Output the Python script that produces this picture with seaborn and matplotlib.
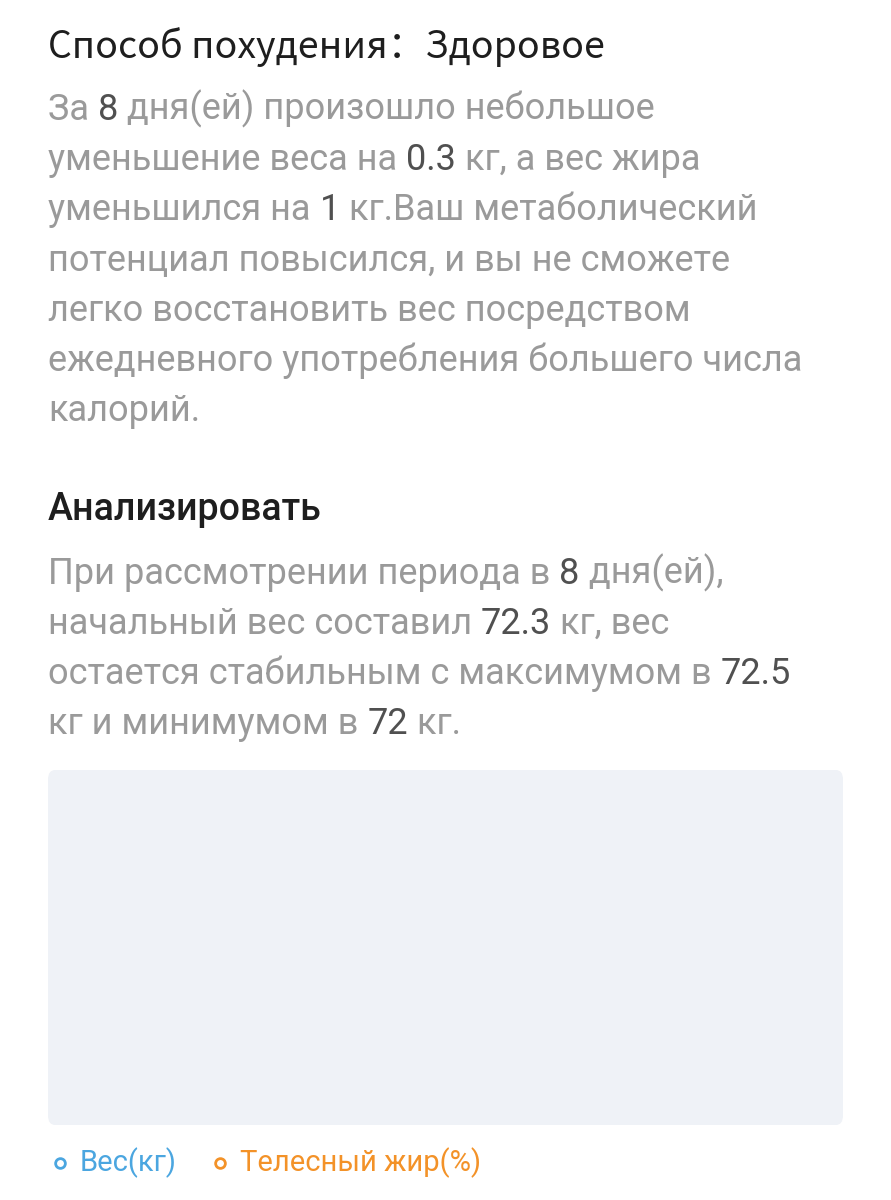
import matplotlib
matplotlib.use("Agg")
import matplotlib.pyplot as plt
from matplotlib.patches import FancyBboxPatch
import seaborn as sns
import pandas as pd

days = [0, 1, 2, 3, 4, 5, 6]
weight = [72.3, 72.3, 72.0, 72.3, 72.0, 72.5, 72.0]
fat = [29.1, 29.4, 29.2, 29.1, 28.9, 28.8, 27.8]
weight_ref = 67.0
fat_ref = 24.0
legend_labels = ["Вес(кг)", "Телесный жир(%)"]

BLUE = "#4ba6e0"
ORANGE = "#f39228"
GRAY = "#9a9a9a"
DARK = "#505050"
HEAD = "#1e1e1e"

sns.set_style("white")
plt.rcParams['font.family'] = ['Roboto', 'DejaVu Sans']

W, H = 891, 1200
fig = plt.figure(figsize=(W / 100, H / 100), dpi=100)

def fy(y):
    return 1 - y / H

# full-figure axes just for text
tax = fig.add_axes([0, 0, 1, 1])
tax.set_axis_off()
tax.set_xlim(0, 1)
tax.set_ylim(0, 1)

def rich_line(y, parts, size=26):
    prev = None
    for txt, col in parts:
        if prev is None:
            prev = tax.text(48 / W, fy(y), txt, color=col, fontsize=size, va="center")
        else:
            prev = tax.annotate(txt, xy=(1, 0), xycoords=prev, va="bottom",
                                color=col, fontsize=size, annotation_clip=False)

tax.text(48 / W, fy(47), "Способ похудения：Здоровое", color=HEAD, fontsize=27, va="center",
         family=['Noto Sans CJK SC', 'Roboto'], weight="medium")
body1 = [
    [("За ", GRAY), ("8", DARK), (" дня(ей) произошло небольшое", GRAY)],
    [("уменьшение веса на ", GRAY), ("0.3", DARK), (" кг, а вес жира", GRAY)],
    [("уменьшился на ", GRAY), ("1", DARK), (" кг.Ваш метаболический", GRAY)],
    [("потенциал повысился, и вы не сможете", GRAY)],
    [("легко восстановить вес посредством", GRAY)],
    [("ежедневного употребления большего числа", GRAY)],
    [("калорий.", GRAY)],
]
for i, parts in enumerate(body1):
    rich_line(110 + i * 50.2, parts)

tax.text(48 / W, fy(510), "Анализировать", color=HEAD, fontsize=27, va="center", weight="medium")
body2 = [
    [("При рассмотрении периода в ", GRAY), ("8", DARK), (" дня(ей),", GRAY)],
    [("начальный вес составил ", GRAY), ("72.3", DARK), (" кг, вес", GRAY)],
    [("остается стабильным с максимумом в ", GRAY), ("72.5", DARK)],
    [("кг и минимумом в ", GRAY), ("72", DARK), (" кг.", GRAY)],
]
for i, parts in enumerate(body2):
    rich_line(574 + i * 50, parts)

# panel background
bg = FancyBboxPatch((48 / W, fy(1125)), 795 / W, 355 / H,
                    boxstyle="round,pad=0,rounding_size=0.008", transform=fig.transFigure,
                    facecolor="#eff2f7", edgecolor="none", zorder=0)
fig.patches.append(bg)

# legend
for x, lab, c in [(60, legend_labels[0], BLUE), (220, legend_labels[1], ORANGE)]:
    tax.plot([x / W], [fy(1163)], "o", color=c, markersize=7, markerfacecolor="white", markeredgewidth=2)
    tax.text((x + 20) / W, fy(1163), lab, color=c, fontsize=21, va="center")

# chart axes
ax = fig.add_axes([144 / W, fy(1078), (812 - 144) / W, 260 / H])
ax.patch.set_alpha(0)
ax2 = ax.twinx()
ax2.patch.set_alpha(0)
ppu = 6.8
ax.set_ylim(weight_ref - (1078 - 902) / ppu, weight_ref + (902 - 818) / ppu)
ax2.set_ylim(fat_ref - (1078 - 1031) / ppu, fat_ref + (1031 - 818) / ppu)
ax.set_xlim(-(230 - 144) / 84.5, 6 + (812 - 737) / 84.5)

df = pd.DataFrame({"day": days, "weight": weight, "fat": fat})
for a, col, c, ref in [(ax, "weight", BLUE, weight_ref), (ax2, "fat", ORANGE, fat_ref)]:
    a.axhline(ref, color=c, lw=1, alpha=0.8)
    sns.lineplot(data=df, x="day", y=col, ax=a, color=c, lw=2.2, marker="o",
                 markersize=8, markerfacecolor="white", markeredgecolor=c, markeredgewidth=2.2)
    for x, v in zip(days, df[col]):
        a.annotate(f"{v:.1f}", (x, v), xytext=(0, 25), textcoords="offset points",
                   ha="center", va="center", color=c, fontsize=19)
    a.text(-0.03, ref, f"{ref:.1f}", transform=a.get_yaxis_transform(), ha="right",
           va="center", color=c, fontsize=18)
    a.set_xticks([])
    a.set_yticks([])
    a.set_xlabel("")
    a.set_ylabel("")
    for s in a.spines.values():
        s.set_visible(False)
ax.spines["left"].set_visible(True)
ax.spines["left"].set_color("#c8c8c8")

fig.savefig("out.png", dpi=100)
